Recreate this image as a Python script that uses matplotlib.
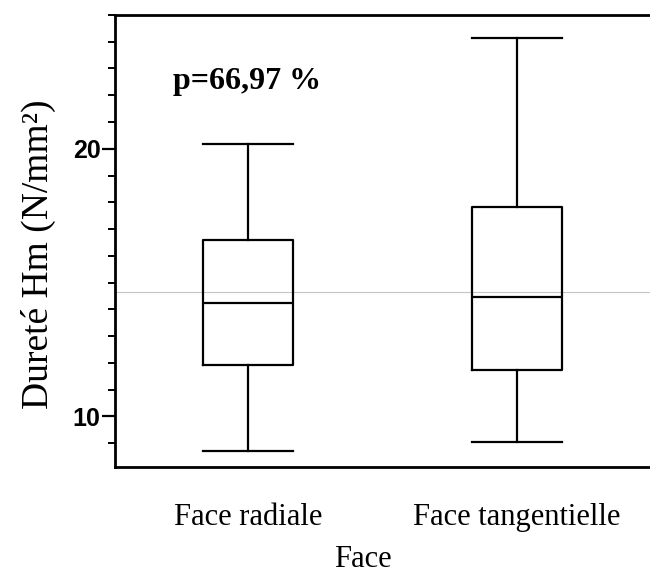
import numpy as np
import matplotlib.pyplot as plt
from matplotlib.ticker import MultipleLocator

# valeurs (N/mm2)
faces = ["Face radiale", "Face tangentielle"]
whis_low = [8.70, 9.04]
q1 = [11.90, 11.74]
medians = [14.23, 14.45]
q3 = [16.60, 17.84]
whis_high = [20.18, 24.15]
mean_all = 14.63
p_text = "p=66,97 %"

serif = ["Liberation Serif", "DejaVu Serif"]
sans = ["Liberation Sans", "DejaVu Sans"]

stats = []
for i in range(len(faces)):
    stats.append({
        "label": faces[i],
        "whislo": whis_low[i],
        "q1": q1[i],
        "med": medians[i],
        "q3": q3[i],
        "whishi": whis_high[i],
        "fliers": [],
    })

fig = plt.figure(figsize=(6.5, 5.76), dpi=100)
ax = fig.add_axes([0.177, 0.189, 0.823, 0.785])

line_kw = dict(color="black", linewidth=1.6)
ax.bxp(stats, positions=[1, 2], widths=0.335, showfliers=False,
       boxprops=line_kw, whiskerprops=line_kw, capprops=line_kw,
       medianprops=line_kw, capwidths=0.335)

# ligne de la moyenne generale
ax.axhline(mean_all, color="#c4c4c4", linewidth=0.8, zorder=0)

ax.set_xlim(0.506, 2.494)
ax.set_ylim(8.1, 25.0)
ax.yaxis.set_major_locator(MultipleLocator(10))
ax.yaxis.set_minor_locator(MultipleLocator(1))

for s in ["left", "top", "bottom"]:
    ax.spines[s].set_linewidth(2.0)
ax.spines["right"].set_visible(False)

ax.tick_params(axis="y", which="major", length=9.5, width=1.6, pad=1)
ax.tick_params(axis="y", which="minor", length=5, width=1.4)
ax.tick_params(axis="x", length=0, pad=26)

for lab in ax.get_yticklabels():
    lab.set_fontfamily(sans)
    lab.set_fontweight("bold")
    lab.set_fontsize(18)
ax.set_xticks([1, 2])
ax.set_xticklabels(faces, fontfamily=serif, fontsize=22)

ax.set_ylabel("Dureté Hm (N/mm²)", fontfamily=serif, fontsize=27, labelpad=12)
ax.yaxis.label.set_y(0.471)
ax.set_xlabel("Face", fontfamily=serif, fontsize=22, labelpad=9.5)
ax.xaxis.label.set_x(0.464)

ax.text(0.721, 22.5, p_text, fontfamily=serif, fontweight="bold", fontsize=23,
        va="center", ha="left")

fig.savefig("out.png", dpi=100)
